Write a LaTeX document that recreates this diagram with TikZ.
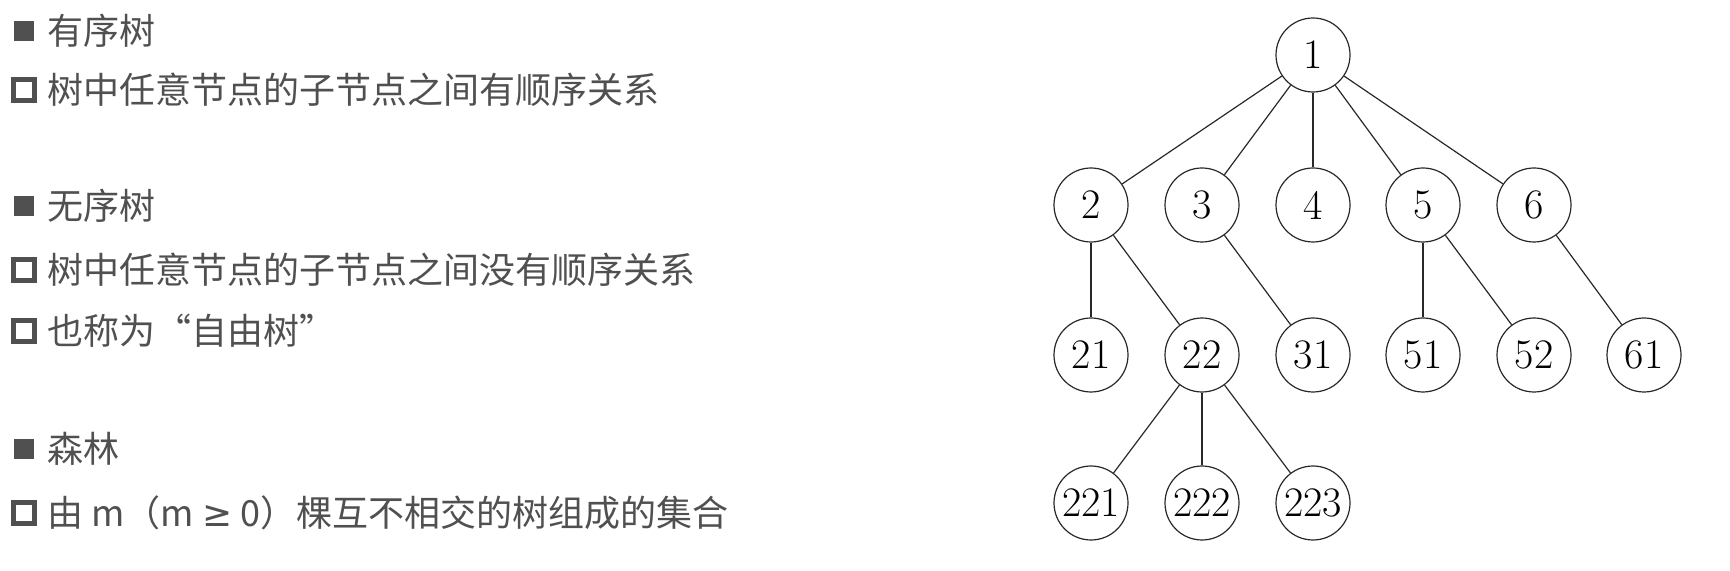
\documentclass[tikz,border=0pt]{standalone}
\usepackage{fontspec}
\newfontfamily\cjk{Noto Sans CJK SC}
\newfontfamily\symf{DejaVu Sans}
\definecolor{txtgray}{RGB}{80,80,80}
\definecolor{edgegray}{RGB}{40,40,40}

\begin{document}
\begin{tikzpicture}[x=0.5pt,y=-0.5pt,
    item/.style={anchor=west,inner sep=0pt,text=txtgray,font=\cjk\fontsize{18}{18}\selectfont},
    fullsq/.style={rectangle,fill=txtgray,minimum size=10pt,inner sep=0pt},
    opensq/.style={rectangle,draw=txtgray,line width=2.2pt,minimum size=10.5pt,inner sep=0pt},
    tnode/.style={circle,draw=edgegray,line width=0.6pt,minimum size=37pt,inner sep=0pt,font=\fontsize{21}{21}\selectfont},
    tedge/.style={draw=edgegray,line width=0.6pt}]
    \useasboundingbox (0,0) rectangle (1730,571);
    % list
    \node at (24,31) [fullsq] (b1) {};
    \node at (47,31) [item] (t1) {有序树};
    \node at (24,90) [opensq] (b2) {};
    \node at (47,90) [item] (t2) {树中任意节点的子节点之间有顺序关系};
    \node at (24,206) [fullsq] (b3) {};
    \node at (47,206) [item] (t3) {无序树};
    \node at (24,270) [opensq] (b4) {};
    \node at (47,270) [item] (t4) {树中任意节点的子节点之间没有顺序关系};
    \node at (24,331) [opensq] (b5) {};
    \node at (47,331) [item] (t5) {也称为“自由树”};
    \node at (24,449) [fullsq] (b6) {};
    \node at (47,449) [item] (t6) {森林};
    \node at (24,513) [opensq] (b7) {};
    \node at (47,513) [item] (t7) {由 m（m {\symf ≥} 0）棵互不相交的树组成的集合};
    % tree nodes
    \node at (1313,55) [tnode] (n1) {1};
    \node at (1091,205) [tnode] (n2) {2};
    \node at (1202,205) [tnode] (n3) {3};
    \node at (1313,205) [tnode] (n4) {4};
    \node at (1423,205) [tnode] (n5) {5};
    \node at (1534,205) [tnode] (n6) {6};
    \node at (1091,355) [tnode] (n21) {21};
    \node at (1202,355) [tnode] (n22) {22};
    \node at (1313,355) [tnode] (n31) {31};
    \node at (1423,355) [tnode] (n51) {51};
    \node at (1534,355) [tnode] (n52) {52};
    \node at (1644,355) [tnode] (n61) {61};
    \node at (1091,503) [tnode] (n221) {221};
    \node at (1202,503) [tnode] (n222) {222};
    \node at (1313,503) [tnode] (n223) {223};
    % tree edges
    \draw[tedge] (n1) -- (n2);
    \draw[tedge] (n1) -- (n3);
    \draw[tedge] (n1) -- (n4);
    \draw[tedge] (n1) -- (n5);
    \draw[tedge] (n1) -- (n6);
    \draw[tedge] (n2) -- (n21);
    \draw[tedge] (n2) -- (n22);
    \draw[tedge] (n3) -- (n31);
    \draw[tedge] (n5) -- (n51);
    \draw[tedge] (n5) -- (n52);
    \draw[tedge] (n6) -- (n61);
    \draw[tedge] (n22) -- (n221);
    \draw[tedge] (n22) -- (n222);
    \draw[tedge] (n22) -- (n223);
\end{tikzpicture}
\end{document}
